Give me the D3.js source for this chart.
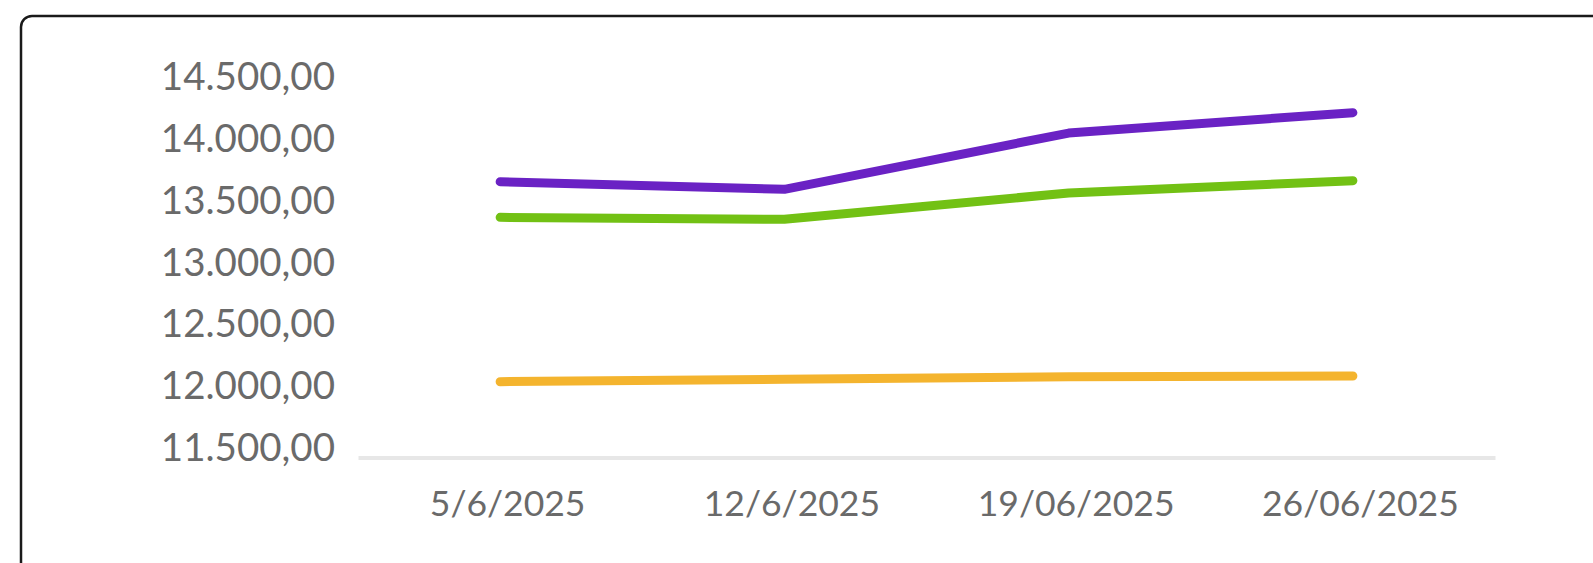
<!DOCTYPE html>
<html>
<head>
<meta charset="utf-8">
<script src="https://cdn.jsdelivr.net/npm/d3@7"></script>
<style>
  html, body { margin: 0; padding: 0; background: #ffffff; overflow: hidden; }
  svg { display: block; font-family: Lato, "Open Sans", sans-serif; }
</style>
</head>
<body>
<svg id="chart" width="1593" height="563"></svg>
<script>
const categories = ["5/6/2025", "12/6/2025", "19/06/2025", "26/06/2025"];
const yTicks = [11500, 12000, 12500, 13000, 13500, 14000, 14500];
const seriesPurple = [13643, 13582, 14037, 14202];
const seriesGreen  = [13355, 13339, 13552, 13652];
const seriesOrange = [12026, 12045, 12066, 12072];
const seriesNames = ["purple", "green", "orange"];
const seriesColors = ["#6a22c4", "#72c114", "#f4b42e"];

const series = [seriesPurple, seriesGreen, seriesOrange];

const svg = d3.select("#chart");

// card
svg.append("rect")
  .attr("x", 21).attr("y", 16)
  .attr("width", 1640).attr("height", 620)
  .attr("rx", 11).attr("ry", 11)
  .attr("fill", "#ffffff")
  .attr("stroke", "#1a1a1a")
  .attr("stroke-width", 2.5);

const x = d3.scalePoint().domain(categories).range([358, 1495]).padding(0.5);
const y = d3.scaleLinear().domain([11500, 14500]).range([446.7, 75.8]);

const locale = d3.formatLocale({decimal: ",", thousands: ".", grouping: [3], currency: ["", ""]});
const fmt = locale.format(",.2f");

// y axis (labels only)
const gy = svg.append("g")
  .attr("transform", "translate(345,0)")
  .call(d3.axisLeft(y).tickValues(yTicks).tickFormat(fmt).tickSize(0).tickPadding(10));
gy.select(".domain").remove();
gy.selectAll("text")
  .attr("dy", "0.36em")
  .attr("fill", "#6a6a6a")
  .style("font-size", "38.5px")
  .style("font-family", "Lato, sans-serif");

// x axis
const gx = svg.append("g")
  .attr("transform", "translate(0,457.5)")
  .call(d3.axisBottom(x).tickSize(0).tickSizeOuter(0));
gx.select(".domain").attr("stroke", "#e7e7e7").attr("stroke-width", 4);
gx.selectAll("text")
  .attr("y", 45.5)
  .attr("dy", "0.36em")
  .attr("dx", 7)
  .attr("fill", "#6a6a6a")
  .style("font-size", "35.5px")
  .style("font-family", "Lato, sans-serif");

// lines
const line = d3.line()
  .x((d, i) => x(categories[i]))
  .y(d => y(d));

svg.append("g").selectAll("path")
  .data(series)
  .join("path")
  .attr("d", d => line(d))
  .attr("fill", "none")
  .attr("stroke", (d, i) => seriesColors[i])
  .attr("stroke-width", 9)
  .attr("stroke-linecap", "round")
  .attr("stroke-linejoin", "round");
</script>
</body>
</html>
